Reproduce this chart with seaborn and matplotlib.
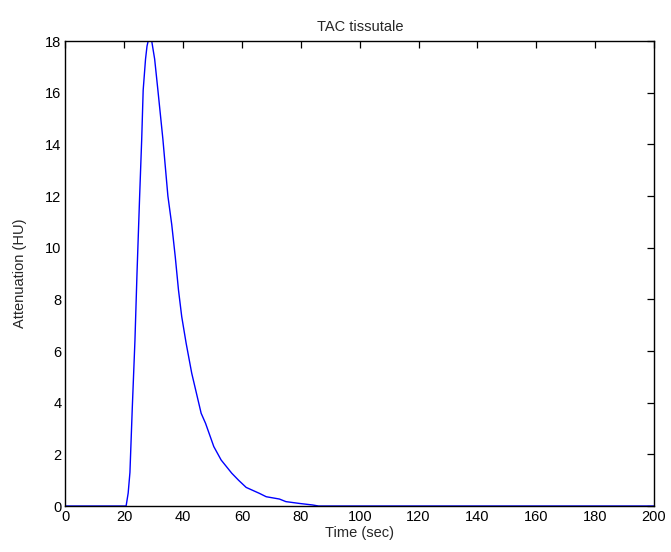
import matplotlib
matplotlib.use("Agg")
import matplotlib.pyplot as plt
import seaborn as sns
import pandas as pd

# Data
time_sec = [0, 20.6, 21.3, 21.9, 22.7, 23.6, 24.3, 25.2, 25.9, 26.4, 27.2, 27.7,
            28.1, 28.7, 29.3, 30.3, 31.4, 33.1, 34.8, 36.1, 37.3, 38.4, 39.5,
            41.0, 42.9, 46.1, 47.6, 50.4, 52.9, 56.5, 58.8, 61.4, 65.9, 68.2,
            72.7, 74.9, 79.5, 84.0, 86.0, 200]
attenuation = [0, 0, 0.5, 1.3, 3.8, 6.4, 9.0, 12.0, 14.2, 16.1, 17.3, 17.8,
               18.0, 18.05, 18.0, 17.3, 16.1, 14.2, 12.0, 10.9, 9.65, 8.36, 7.33,
               6.3, 5.14, 3.59, 3.2, 2.3, 1.78, 1.27, 1.0, 0.72, 0.49, 0.36,
               0.27, 0.17, 0.1, 0.04, 0.0, 0.0]
x_ticks = [0, 20, 40, 60, 80, 100, 120, 140, 160, 180, 200]
y_ticks = [0, 2, 4, 6, 8, 10, 12, 14, 16, 18]

sns.set_style("white")
plt.rcParams['font.family'] = ['Liberation Sans', 'DejaVu Sans']

df = pd.DataFrame({"t": time_sec, "v": attenuation})

fig = plt.figure(figsize=(6.71, 5.52), dpi=100)
ax = fig.add_axes([0.0976, 0.0833, 0.8771, 0.8424])
sns.lineplot(data=df, x="t", y="v", ax=ax, color="#0000ff", linewidth=1.0)

ax.set_xlim(0, 200)
ax.set_ylim(0, 18)
ax.set_xticks(x_ticks)
ax.set_yticks(y_ticks)
ax.tick_params(direction="in", length=5, width=0.9, top=True, right=True,
               labelsize=10.5, colors="black", pad=3)
for s in ax.spines.values():
    s.set_visible(True)
    s.set_color("black")
    s.set_linewidth(1.0)
ax.set_title("TAC tissutale", fontsize=10.5, pad=7)
ax.set_xlabel("Time (sec)", fontsize=10.5, labelpad=1)
ax.set_ylabel("Attenuation (HU)", fontsize=10.5, labelpad=13)

fig.savefig("out.png", dpi=100)
